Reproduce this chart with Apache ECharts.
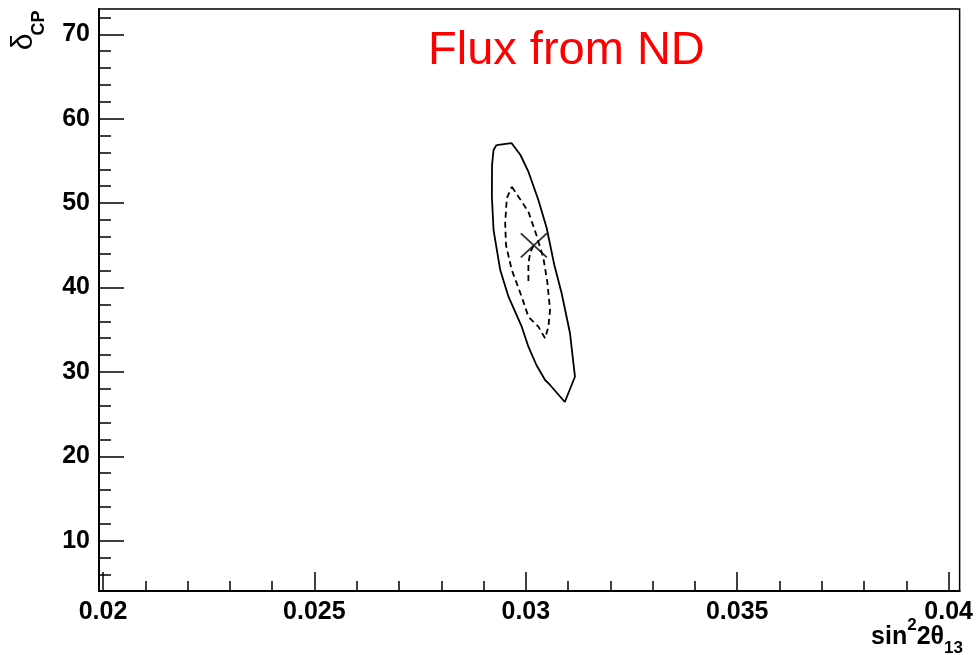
<!DOCTYPE html>
<html>
<head>
<meta charset="utf-8">
<script src="https://cdn.jsdelivr.net/npm/echarts@6/dist/echarts.min.js"></script>
<style>
  html, body { margin: 0; padding: 0; background: #fff; }
  #chart { width: 976px; height: 655px; }
</style>
</head>
<body>
<div id="chart"></div>
<script>
// axis ticks
var xMajorTicks = [0.02, 0.025, 0.03, 0.035, 0.04];
var xMinorTicks = [0.021, 0.022, 0.023, 0.024, 0.026, 0.027, 0.028, 0.029,
  0.031, 0.032, 0.033, 0.034, 0.036, 0.037, 0.038, 0.039];
var yMajorTicks = [10, 20, 30, 40, 50, 60, 70];
var yMinorTicks = [6, 8, 12, 14, 16, 18, 22, 24, 26, 28, 32, 34, 36, 38,
  42, 44, 46, 48, 52, 54, 56, 58, 62, 64, 66, 68, 72];

// contours, [sin^2 2theta13, deltaCP]
var outerContour = [
  [0.029307, 56.88], [0.029661, 57.12], [0.029873, 55.70], [0.030061, 53.72],
  [0.030297, 50.37], [0.030493, 47.05], [0.030674, 42.67], [0.030846, 39.35],
  [0.031044, 34.61], [0.031162, 29.43], [0.030922, 26.43], [0.030573, 28.45],
  [0.030455, 29.04], [0.030250, 30.82], [0.030061, 32.99], [0.029903, 35.36],
  [0.029590, 38.91], [0.029395, 42.07], [0.029237, 46.81], [0.029197, 50.76],
  [0.029201, 54.51], [0.029237, 56.29], [0.029307, 56.88]
];
var innerContour = [
  [0.029668, 51.94], [0.029826, 50.76], [0.030061, 48.98], [0.030250, 46.22],
  [0.030415, 43.50], [0.030509, 40.65], [0.030573, 37.33], [0.030533, 35.32],
  [0.030455, 33.98], [0.030297, 35.36], [0.030061, 36.54], [0.029903, 38.91],
  [0.029668, 42.07], [0.029531, 45.04], [0.029512, 47.61], [0.029550, 50.57],
  [0.029668, 51.94]
];
var innerSpur = [
  [0.030061, 40.77], [0.030061, 42.90], [0.030108, 44.21], [0.030203, 45.15]
];
var bestFit = [[0.03019, 45.0]];

var xMin = 0.019906, xMax = 0.040259;
var yMin = 4.04, yMax = 73.0;

var FONT = "'Liberation Sans', Arial, Helvetica, sans-serif";

var chart = echarts.init(document.getElementById('chart'));

function makeX(idx, show) {
  return {
    type: 'value', min: xMin, max: xMax, position: 'bottom', gridIndex: 0,
    splitLine: { show: false },
    axisLine: { show: show, onZero: false, lineStyle: { color: '#000', width: 2 } },
    axisTick: idx === 0
      ? { show: true, inside: true, length: 19, customValues: xMajorTicks, lineStyle: { color: '#000', width: 1.5 } }
      : { show: true, inside: true, length: 10, customValues: xMinorTicks, lineStyle: { color: '#000', width: 1.5 } },
    axisLabel: idx === 0
      ? { show: true, customValues: xMajorTicks, margin: 9, color: '#000', fontFamily: FONT,
          fontWeight: 'bold', fontSize: 25, formatter: function (v) { return String(v); } }
      : { show: false }
  };
}
function makeY(idx, show) {
  return {
    type: 'value', min: yMin, max: yMax, position: 'left', gridIndex: 0,
    splitLine: { show: false },
    axisLine: { show: show, onZero: false, lineStyle: { color: '#000', width: 2 } },
    axisTick: idx === 0
      ? { show: true, inside: true, length: 25, customValues: yMajorTicks, lineStyle: { color: '#000', width: 1.5 } }
      : { show: true, inside: true, length: 12, customValues: yMinorTicks, lineStyle: { color: '#000', width: 1.5 } },
    axisLabel: idx === 0
      ? { show: true, customValues: yMajorTicks, margin: 9, color: '#000', fontFamily: FONT,
          fontWeight: 'bold', fontSize: 25 }
      : { show: false }
  };
}

chart.setOption({
  animation: false,
  backgroundColor: '#fff',
  grid: {
    left: 99, top: 9, right: 13, bottom: 64,
    show: true, borderColor: '#000', borderWidth: 1.5, backgroundColor: 'transparent'
  },
  xAxis: [makeX(0, true), makeX(1, false)],
  yAxis: [makeY(0, true), makeY(1, false)],
  graphic: [
    { type: 'text', x: 428, y: 28, style: { text: 'Flux from ND', fill: '#ff0000',
      font: 'normal 47px ' + FONT, verticalAlign: 'top', align: 'left' } },
    { type: 'text', x: 24, y: 42, rotation: Math.PI / 2, style: { text: 'δ', fill: '#000',
      font: 'normal 30px ' + FONT, align: 'center', verticalAlign: 'middle' } },
    { type: 'text', x: 39, y: 23, rotation: Math.PI / 2, style: { text: 'CP', fill: '#000',
      font: 'bold 18px ' + FONT, align: 'center', verticalAlign: 'middle' } },
    { type: 'text', x: 963, y: 637, style: {
      text: '{m|sin}{p|2}{m|2θ}{b|13}', align: 'right', verticalAlign: 'middle',
      rich: {
        m: { fontFamily: FONT, fontWeight: 'bold', fontSize: 25, fill: '#000', lineHeight: 40, verticalAlign: 'middle' },
        p: { fontFamily: FONT, fontWeight: 'bold', fontSize: 17, fill: '#000', lineHeight: 40, verticalAlign: 'top' },
        b: { fontFamily: FONT, fontWeight: 'bold', fontSize: 17, fill: '#000', lineHeight: 40, verticalAlign: 'bottom' }
      } } }
  ],
  series: [
    { type: 'line', data: outerContour, showSymbol: false, symbol: 'none',
      lineStyle: { color: '#000', width: 1.8 }, z: 3 },
    { type: 'line', data: innerContour, showSymbol: false, symbol: 'none',
      lineStyle: { color: '#000', width: 1.8, type: [6, 4] }, z: 3 },
    { type: 'line', data: innerSpur, showSymbol: false, symbol: 'none',
      lineStyle: { color: '#000', width: 1.8, type: [6, 4] }, z: 3 },
    { type: 'scatter', data: bestFit, symbol: 'path://M0,0L26,24M26,0L0,24',
      symbolSize: [26, 24],
      itemStyle: { color: 'none', borderColor: '#000', borderWidth: 1.8 }, z: 4 }
  ]
});
</script>
</body>
</html>
